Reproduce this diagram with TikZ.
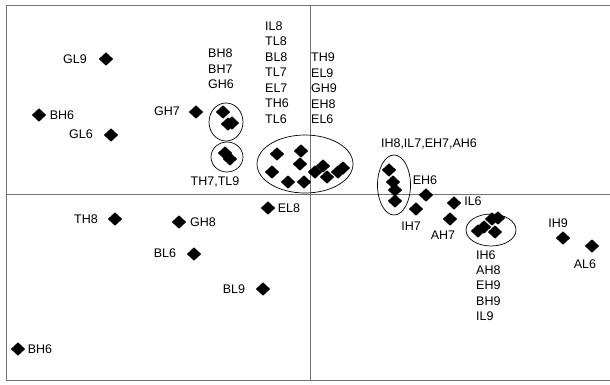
\documentclass[tikz,border=0pt]{standalone}
\usepackage{fontspec}
\setmainfont{Liberation Sans}
\usetikzlibrary{shapes.geometric}
\begin{document}
\begin{tikzpicture}[x=1pt,y=-1pt,
  mk/.style={shape=diamond,fill=black,draw=none,inner sep=0pt,minimum width=14.5pt,minimum height=13.5pt},
  lbl/.style={inner sep=0pt,font=\fontsize{12.5}{15.5}\selectfont},
  col/.style={lbl,anchor=west,align=left},
  grp/.style={shape=ellipse,draw=black,line width=0.7pt,inner sep=0pt},
  axis/.style={draw=black!55,line width=0.9pt}]
\useasboundingbox (0,0) rectangle (610,384);
% frame and axes
\coordinate (tl) at (6,5);
\coordinate (tr) at (610,5);
\coordinate (bl) at (6,380);
\coordinate (br) at (610,380);
\coordinate (ml) at (6,194);
\coordinate (mr) at (610,194);
\coordinate (vt) at (310,5);
\coordinate (vb) at (310,380);
\draw[axis] (tr) -- (tl) -- (bl) -- (br);
\draw[axis] (ml) -- (mr);
\draw[axis] (vt) -- (vb);
% groups
\node[grp,minimum width=34pt,minimum height=38pt] (g1) at (226,122) {};
\node[grp,minimum width=32pt,minimum height=30pt] (g2) at (227,157) {};
\node[grp,minimum width=96pt,minimum height=58pt] (g3) at (305,164) {};
\node[grp,minimum width=33pt,minimum height=60pt] (g4) at (394,185) {};
\node[grp,minimum width=50pt,minimum height=32pt] (g5) at (491,230) {};
% markers
\node[mk] (pGL9) at (106,59) {};
\node[mk] (pBH6a) at (39,115) {};
\node[mk] (pGL6) at (111,135) {};
\node[mk] (pGH7) at (196,112) {};
\node[mk] (c1a) at (223,112) {};
\node[mk] (c1b) at (228,124) {};
\node[mk] (c1c) at (232,123) {};
\node[mk] (c2a) at (225,153) {};
\node[mk] (c2b) at (230,159) {};
\node[mk] (b1) at (277,154) {};
\node[mk] (b2) at (301,151) {};
\node[mk] (b3) at (300,164) {};
\node[mk] (b4) at (272,172) {};
\node[mk] (b5) at (288,182) {};
\node[mk] (b6) at (304,182) {};
\node[mk] (b7) at (315,172) {};
\node[mk] (b8) at (323,166) {};
\node[mk] (b9) at (327,177) {};
\node[mk] (b10) at (338,172) {};
\node[mk] (b11) at (343,168) {};
\node[mk] (e1) at (389,170) {};
\node[mk] (e2) at (393,182) {};
\node[mk] (e3) at (395,190) {};
\node[mk] (e4) at (395,201) {};
\node[mk] (pEH6) at (426,195) {};
\node[mk] (pIL6) at (454,203) {};
\node[mk] (pIH7) at (416,209) {};
\node[mk] (pAH7) at (450,219) {};
\node[mk] (f1) at (478,231) {};
\node[mk] (f2) at (484,227) {};
\node[mk] (f3) at (492,219) {};
\node[mk] (f4) at (498,218) {};
\node[mk] (f5) at (495,232) {};
\node[mk] (pIH9) at (563,238) {};
\node[mk] (pAL6) at (592,246) {};
\node[mk] (pTH8) at (115,219) {};
\node[mk] (pGH8) at (179,222) {};
\node[mk] (pEL8) at (268,208) {};
\node[mk] (pBL6) at (194,254) {};
\node[mk] (pBL9) at (263,289) {};
\node[mk] (pBH6b) at (18,349) {};
% labels
\node[lbl] (tGL9) at (75,59) {GL9};
\node[lbl] (tBH6a) at (62,115) {BH6};
\node[lbl] (tGL6) at (81,134) {GL6};
\node[lbl] (tGH7) at (167,111) {GH7};
\node[col] (tc1) at (208,69) {BH8\\BH7\\GH6};
\node[lbl] (tc2) at (215,182) {TH7,TL9};
\node[col] (tc3a) at (265,72.5) {IL8\\TL8\\BL8\\TL7\\EL7\\TH6\\TL6};
\node[col] (tc3b) at (311,88.5) {TH9\\EL9\\GH9\\EH8\\EL6};
\node[lbl] (tc4) at (429,144) {IH8,IL7,EH7,AH6};
\node[lbl] (tEH6) at (425,180) {EH6};
\node[lbl] (tIL6) at (473,201) {IL6};
\node[lbl] (tIH7) at (411,226) {IH7};
\node[lbl] (tAH7) at (443,235) {AH7};
\node[col,font=\fontsize{12.5}{15.25}\selectfont] (tc5) at (476,285.5) {IH6\\AH8\\EH9\\BH9\\IL9};
\node[lbl] (tIH9) at (558,223) {IH9};
\node[lbl] (tAL6) at (585,264) {AL6};
\node[lbl] (tTH8) at (86,219) {TH8};
\node[lbl] (tGH8) at (203,222) {GH8};
\node[lbl] (tEL8) at (289,208) {EL8};
\node[lbl] (tBL6) at (165,253) {BL6};
\node[lbl] (tBL9) at (234,289) {BL9};
\node[lbl] (tBH6b) at (40,349) {BH6};
\end{tikzpicture}
\end{document}
